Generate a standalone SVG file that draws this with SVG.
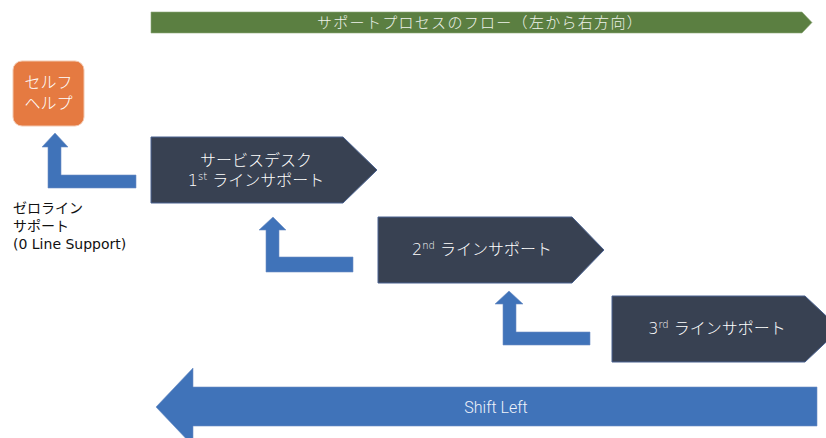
<svg xmlns="http://www.w3.org/2000/svg" width="826" height="438" viewBox="0 0 826 438">
<style>
.jp{font-family:"DejaVu Sans","Noto Sans CJK JP",sans-serif;}
.jpo{font-family:"Noto Sans CJK JP","Liberation Sans",sans-serif;}
.w{fill:#ffffff;}
.dark{fill:#384152;stroke:#4b6391;stroke-width:1;}
.blue{fill:#4073b9;stroke:#6d8fc4;stroke-width:0.6;}
</style>
<rect width="826" height="438" fill="#ffffff"/>
<g id="flow-banner">
<polygon points="151,12 802,12 812,22.5 802,33 151,33" fill="#5b7f41" stroke="#8faa7a" stroke-width="0.6"/>
<text class="jpo" x="480" y="28" font-size="15" font-weight="300" fill="#eef2ea" text-anchor="middle" letter-spacing="1.3">サポートプロセスのフロー（左から右方向）</text>
</g>
<g id="self-help">
<rect x="13" y="61" width="71" height="65" rx="9" fill="#e57a41" stroke="#f3c7ae" stroke-width="1"/>
<text class="jp w" x="48.5" y="88" font-size="16" font-weight="300" text-anchor="middle">セルフ</text>
<text class="jp w" x="48.5" y="109" font-size="16" font-weight="300" text-anchor="middle">ヘルプ</text>
</g>
<g id="zero-line-label">
<text class="jp" x="13" y="213" font-size="14" fill="#111">ゼロライン</text>
<text class="jp" x="13" y="231" font-size="14" fill="#111">サポート</text>
<text class="jp" x="13" y="249" font-size="14" fill="#111">(0 Line Support)</text>
</g>
<g id="service-desk">
<polygon class="dark" points="151,137 343,137 377,170 343,203 151,203"/>
<text class="jp w" x="256" y="166" font-size="16" font-weight="300" text-anchor="middle">サービスデスク</text>
<text class="jp w" x="256" y="186" font-size="16" font-weight="300" text-anchor="middle">1<tspan font-size="10" dy="-6">st</tspan><tspan dy="6"> ラインサポート</tspan></text>
</g>
<g id="second-line">
<polygon class="dark" points="378,217 572,217 604,250 572,283 378,283"/>
<text class="jp w" x="482" y="255" font-size="16" font-weight="300" text-anchor="middle">2<tspan font-size="10" dy="-6">nd</tspan><tspan dy="6"> ラインサポート</tspan></text>
</g>
<g id="third-line">
<polygon class="dark" points="612,296 805,296 840,329 805,362 612,362"/>
<text class="jp w" x="717" y="334" font-size="16" font-weight="300" text-anchor="middle">3<tspan font-size="10" dy="-6">rd</tspan><tspan dy="6"> ラインサポート</tspan></text>
</g>
<g id="connectors">
<polygon class="blue" points="55,133 68,147 61,147 61,175 136,175 136,188 48,188 48,147 42,147"/>
<polygon class="blue" points="273,217 286,230 279,230 279,257 353,257 353,272 266,272 266,230 259,230"/>
<polygon class="blue" points="509,291 523,304 516,304 516,332 590,332 590,345 503,345 503,304 495,304"/>
</g>
<g id="shift-left">
<polygon class="blue" points="156,407 193,368 193,387 817,387 817,426 193,426 193,446"/>
<text x="496" y="413" font-family="Roboto,'Liberation Sans',sans-serif" font-weight="300" font-size="16" fill="#eef2fa" text-anchor="middle">Shift Left</text>
</g>
</svg>
